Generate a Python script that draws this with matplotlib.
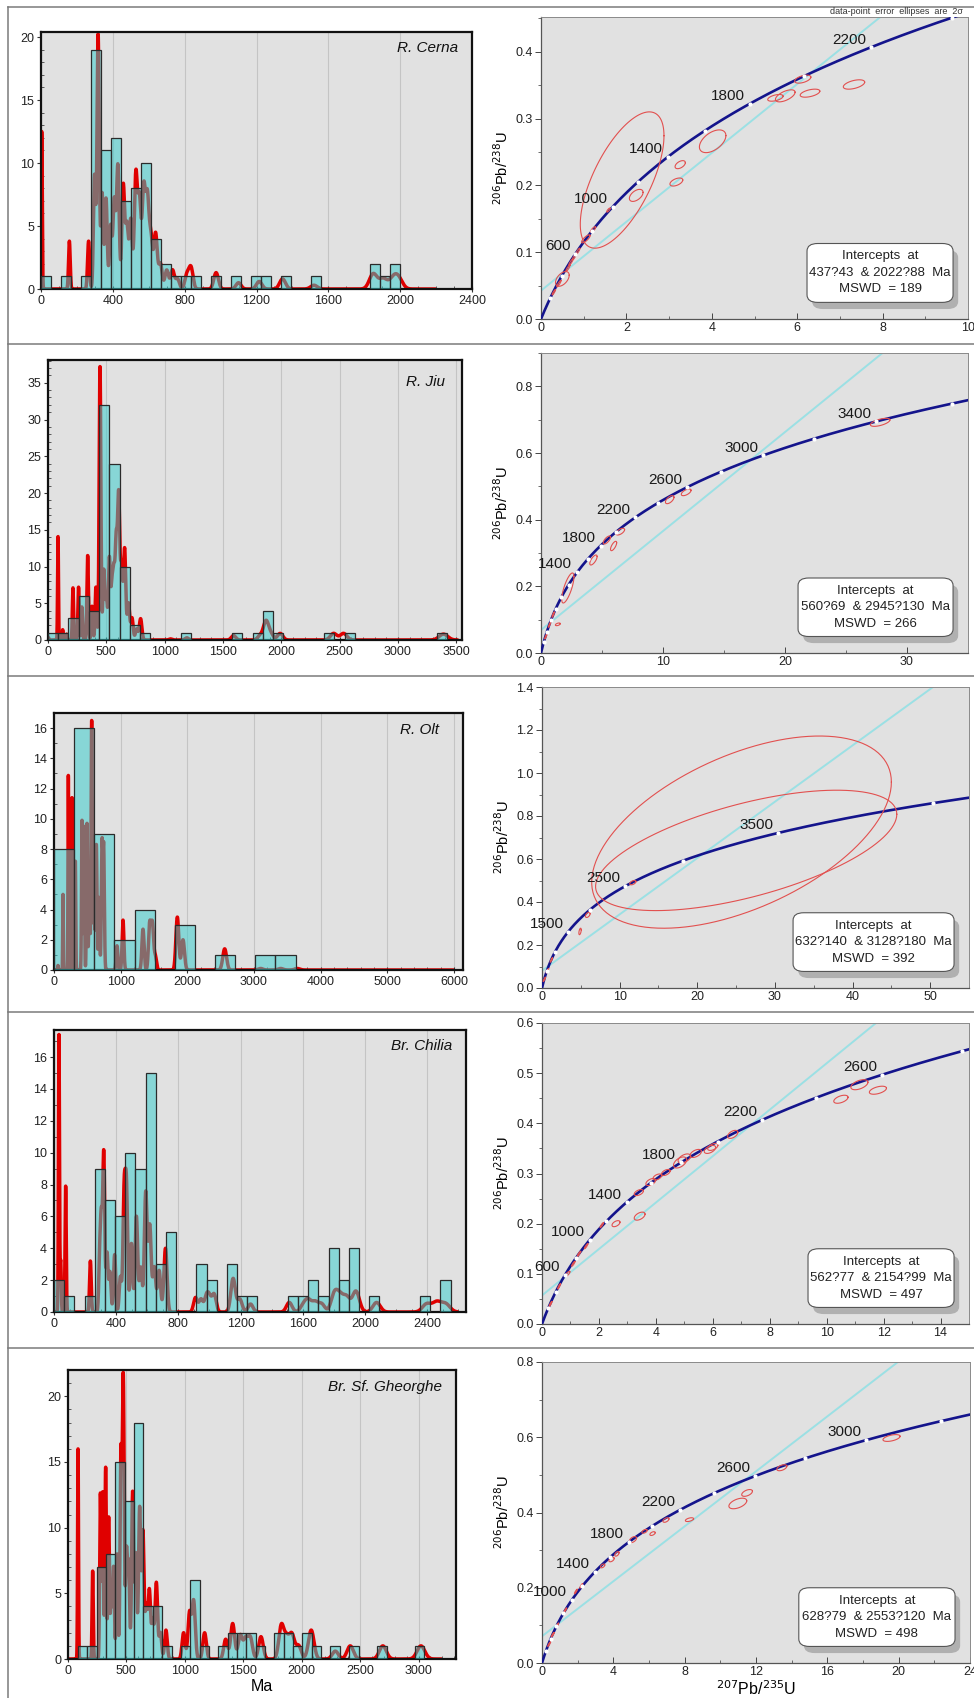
import numpy as np
import matplotlib
matplotlib.use('Agg')
import matplotlib.pyplot as plt
from matplotlib.lines import Line2D
from matplotlib.patches import FancyBboxPatch
from matplotlib.ticker import MultipleLocator, FormatStrFormatter

plt.rcParams['font.family'] = ['Liberation Sans', 'DejaVu Sans']

# ---------------- histogram data (bins of constant width) ----------------
names = ['R. Cerna', 'R. Jiu', 'R. Olt', 'Br. Chilia', 'Br. Sf. Gheorghe']

bin_width = [55.6, 87.7, 302.0, 65.4, 80.0]
bin_start = [0.0, 0.0, 0.0, 0.0, 6.0]

cerna_idx = [0, 2, 4, 5, 6, 7, 8, 9, 10, 11, 12, 13, 14, 15, 17, 19, 21, 22, 24, 27, 33, 34, 35]
cerna_cnt = [1, 1, 1, 19, 11, 12, 7, 8, 10, 4, 2, 1, 1, 1, 1, 1, 1, 1, 1, 1, 2, 1, 2]

jiu_idx = [0, 1, 2, 3, 4, 5, 6, 7, 8, 9, 13, 18, 20, 21, 22, 27, 29, 38]
jiu_cnt = [1, 1, 3, 6, 4, 32, 24, 10, 2, 1, 1, 1, 1, 4, 1, 1, 1, 1]

olt_idx = [0, 1, 2, 3, 4, 6, 8, 10, 11]
olt_cnt = [8, 16, 9, 2, 4, 3, 1, 1, 1]

chilia_idx = [0, 1, 3, 4, 5, 6, 7, 8, 9, 10, 11, 14, 15, 17, 18, 19, 23, 24, 25, 26, 27, 28, 29, 31, 36, 38]
chilia_cnt = [2, 1, 1, 9, 7, 6, 10, 9, 15, 3, 5, 3, 2, 3, 1, 1, 1, 1, 2, 1, 4, 2, 4, 1, 1, 2]

gheorghe_idx = [1, 2, 3, 4, 5, 6, 7, 8, 9, 10, 12, 13, 14, 16, 17, 18, 19, 20, 22, 23, 24, 25, 26, 28, 30, 33, 37]
gheorghe_cnt = [1, 1, 7, 8, 15, 12, 18, 4, 4, 1, 1, 6, 1, 1, 2, 2, 2, 1, 2, 2, 1, 2, 1, 1, 1, 1, 1]

hist_idx = [cerna_idx, jiu_idx, olt_idx, chilia_idx, gheorghe_idx]
hist_cnt = [cerna_cnt, jiu_cnt, olt_cnt, chilia_cnt, gheorghe_cnt]

# ---------------- probability density peaks (age Ma, height) ----------------
cerna_pk_age = [4, 158, 265, 298, 318, 340, 362, 388, 408, 428, 458, 478, 500, 528, 548, 572, 592, 612,
                638, 665, 700, 732, 760, 812, 835, 975, 1100, 1215, 1345, 1520, 1850, 1905, 1960, 1990]
cerna_pk_h = [12.5, 3.8, 3.8, 9, 20.2, 7.6, 7.2, 5, 7, 9.8, 8.2, 5, 5.5, 9, 7, 7.8, 7.0, 4,
              4.4, 2, 1.5, 1.5, 0.8, 1.1, 1.7, 1.3, 0.5, 0.6, 0.8, 0.3, 1.2, 0.8, 0.7, 0.8]

jiu_pk_age = [5, 86, 126, 160, 214, 262, 290, 340, 377, 411, 446, 478, 500, 526, 548, 565, 585, 606,
              630, 657, 690, 720, 760, 794, 1050, 1190, 1591, 1820, 1869, 1910, 1991, 2449, 2534, 3391]
jiu_pk_h = [0.3, 14.1, 1.4, 0.8, 7.1, 7.2, 4.5, 11.5, 4.6, 7.2, 37.2, 9.5, 6, 11.1, 7, 8.6, 13, 19.3,
            10, 12.4, 5, 3.0, 1.5, 2.9, 0.15, 0.3, 0.6, 0.6, 2.5, 0.8, 0.9, 0.9, 0.9, 0.8]

olt_pk_age = [60, 135, 215, 232, 270, 320, 420, 450, 495, 530, 565, 600, 635, 675, 720, 745,
              945, 1035, 1335, 1435, 1475, 1520, 1850, 1935, 2560, 3100, 3400, 3650]
olt_pk_h = [0.3, 5.0, 12.8, 11, 11.4, 7.2, 9.9, 9.5, 9.7, 6.5, 16.5, 8, 8.3, 4.8, 8.2, 8.0,
            1.6, 3.3, 2.7, 3.0, 3.0, 0.9, 3.5, 2.0, 1.4, 0.1, 0.1, 0.1]

chilia_pk_age = [32, 43, 75, 234, 294, 305, 320, 341, 360, 390, 427, 451, 466, 498, 530, 558, 590, 616,
                 645, 676, 717, 910, 945, 980, 1000, 1030, 1152, 1195, 1264, 1513, 1603, 1635, 1678,
                 1721, 1803, 1839, 1882, 1942, 2075, 2397, 2461, 2519]
chilia_pk_h = [17.4, 3.2, 7.9, 3.2, 3.3, 5.5, 9.9, 3.7, 2.5, 3.6, 2.2, 7.2, 7.5, 4.3, 6.0, 2.8, 7.5, 5.4,
               2.8, 2.6, 4.0, 0.9, 0.8, 0.9, 0.8, 1.1, 2.1, 0.8, 0.5, 0.6, 0.4, 0.7, 0.6,
               0.5, 1.1, 0.9, 0.9, 1.3, 0.6, 0.5, 0.6, 0.5]

gheorghe_pk_age = [86, 211, 277, 297, 322, 348, 370, 390, 420, 453, 473, 500, 519, 553, 580, 613, 641,
                   670, 696, 725, 756, 790, 838, 989, 1040, 1075, 1169, 1349, 1409, 1474, 1520, 1560,
                   1651, 1825, 1870, 1916, 1973, 2081, 2287, 2415, 2694, 3020]
gheorghe_pk_h = [16.0, 6.7, 12.6, 12.7, 14.6, 10.8, 5, 7, 8, 15.5, 21.3, 8, 7, 12.7, 8, 11.5, 9.7,
                 4, 5.2, 3, 5.8, 2, 2.2, 2.0, 3.5, 4.4, 2.0, 1.5, 2.7, 1.8, 1.5, 1.6,
                 1.7, 2.5, 1.5, 1.8, 1.0, 2.2, 0.6, 1.0, 1.0, 1.0]

pk_age = [cerna_pk_age, jiu_pk_age, olt_pk_age, chilia_pk_age, gheorghe_pk_age]
pk_h = [cerna_pk_h, jiu_pk_h, olt_pk_h, chilia_pk_h, gheorghe_pk_h]
curve_end = [2200, 3520, 6000, 2600, 3200]

# ---------------- concordia data ----------------
intercept_lo = [437, 560, 632, 562, 628]
intercept_hi = [2022, 2945, 3128, 2154, 2553]
intercept_txt = ['437?43  & 2022?88  Ma', '560?69  & 2945?130  Ma', '632?140  & 3128?180  Ma',
                 '562?77  & 2154?99  Ma', '628?79  & 2553?120  Ma']
mswd = [189, 266, 392, 497, 498]
label_ages = [[600, 1000, 1400, 1800, 2200],
              [1400, 1800, 2200, 2600, 3000, 3400],
              [1500, 2500, 3500],
              [600, 1000, 1400, 1800, 2200, 2600],
              [1000, 1400, 1800, 2200, 2600, 3000]]
dot_step = [200, 200, 500, 200, 200]

# ellipses: centre x, centre y, 2s x, 2s y, correlation
cerna_ell = [(1.90, 0.208, 0.98, 0.102, 0.65), (2.23, 0.185, 0.16, 0.009, 0.5), (3.17, 0.205, 0.15, 0.006, 0.5),
             (3.26, 0.231, 0.12, 0.006, 0.5), (4.02, 0.266, 0.31, 0.017, 0.5), (5.49, 0.331, 0.18, 0.005, 0.5),
             (5.72, 0.334, 0.23, 0.009, 0.6), (6.30, 0.338, 0.23, 0.006, 0.5), (6.13, 0.359, 0.19, 0.006, 0.5),
             (7.33, 0.351, 0.25, 0.007, 0.5), (0.50, 0.060, 0.16, 0.011, 0.5), (1.05, 0.120, 0.10, 0.006, 0.8),
             (1.22, 0.134, 0.06, 0.004, 0.8), (1.58, 0.163, 0.04, 0.003, 0.8), (0.30, 0.040, 0.04, 0.004, 0.9),
             (0.42, 0.053, 0.05, 0.005, 0.9), (0.63, 0.076, 0.05, 0.005, 0.9), (0.70, 0.085, 0.05, 0.005, 0.9),
             (0.78, 0.093, 0.05, 0.005, 0.9), (0.86, 0.101, 0.05, 0.005, 0.9)]
jiu_ell = [(2.20, 0.195, 0.50, 0.045, 0.75), (1.38, 0.086, 0.20, 0.004, 0.5), (4.30, 0.279, 0.30, 0.015, 0.7),
           (5.40, 0.339, 0.30, 0.012, 0.7), (5.95, 0.321, 0.25, 0.014, 0.7), (6.50, 0.364, 0.35, 0.010, 0.6),
           (10.55, 0.460, 0.35, 0.012, 0.6), (11.90, 0.482, 0.40, 0.010, 0.6), (27.80, 0.692, 0.80, 0.012, 0.6),
           (0.40, 0.050, 0.10, 0.008, 0.9), (0.70, 0.085, 0.10, 0.008, 0.9), (1.00, 0.115, 0.10, 0.008, 0.9)]
olt_ell = [(25.7, 0.725, 19.3, 0.447, 0.52), (26.3, 0.640, 19.4, 0.280, 0.6), (11.7, 0.490, 0.4, 0.010, 0.5),
           (5.9, 0.340, 0.3, 0.012, 0.5), (4.9, 0.263, 0.15, 0.015, 0.5), (0.3, 0.040, 0.15, 0.010, 0.9),
           (0.7, 0.080, 0.15, 0.010, 0.9), (1.2, 0.130, 0.15, 0.010, 0.9)]
chilia_ell = [(2.60, 0.200, 0.14, 0.006, 0.5), (3.43, 0.215, 0.19, 0.008, 0.5), (3.40, 0.262, 0.16, 0.006, 0.5),
              (3.82, 0.283, 0.17, 0.007, 0.5), (4.05, 0.293, 0.15, 0.006, 0.5), (4.35, 0.302, 0.15, 0.006, 0.5),
              (4.85, 0.322, 0.23, 0.011, 0.5), (5.00, 0.330, 0.22, 0.009, 0.5), (5.40, 0.340, 0.20, 0.008, 0.5),
              (5.90, 0.348, 0.20, 0.008, 0.5), (6.00, 0.353, 0.18, 0.007, 0.5), (6.70, 0.378, 0.18, 0.008, 0.5),
              (10.50, 0.448, 0.25, 0.008, 0.5), (11.15, 0.477, 0.30, 0.010, 0.5), (11.80, 0.466, 0.30, 0.008, 0.5),
              (0.90, 0.100, 0.08, 0.005, 0.8), (0.30, 0.040, 0.05, 0.005, 0.9), (0.60, 0.075, 0.05, 0.005, 0.9),
              (1.10, 0.120, 0.06, 0.005, 0.9), (1.30, 0.140, 0.06, 0.005, 0.9), (1.55, 0.155, 0.06, 0.005, 0.9),
              (2.10, 0.197, 0.06, 0.005, 0.9)]
gheorghe_ell = [(10.98, 0.424, 0.50, 0.014, 0.5), (11.50, 0.452, 0.30, 0.009, 0.5), (13.45, 0.519, 0.28, 0.008, 0.5),
                (19.60, 0.598, 0.48, 0.009, 0.5), (8.27, 0.381, 0.23, 0.005, 0.5), (6.95, 0.380, 0.17, 0.006, 0.5),
                (6.20, 0.344, 0.15, 0.005, 0.5), (5.75, 0.350, 0.15, 0.005, 0.5), (5.10, 0.328, 0.20, 0.008, 0.5),
                (3.90, 0.275, 0.15, 0.006, 0.5), (4.20, 0.290, 0.12, 0.006, 0.5), (3.40, 0.258, 0.12, 0.005, 0.5),
                (0.40, 0.050, 0.08, 0.006, 0.9), (0.60, 0.075, 0.08, 0.006, 0.9), (0.85, 0.100, 0.08, 0.006, 0.9),
                (1.30, 0.140, 0.08, 0.006, 0.9), (1.90, 0.190, 0.08, 0.006, 0.9), (2.20, 0.205, 0.08, 0.006, 0.9)]
ellipses = [cerna_ell, jiu_ell, olt_ell, chilia_ell, gheorghe_ell]

# ---------------- layout (pixel boxes) ----------------
W, H = 974, 1698
hist_box = [(41, 32, 472, 289), (48, 360, 462, 640), (54, 713, 463, 970), (54, 1030, 466, 1312), (68, 1370, 456, 1659)]
hist_xlim = [2400, 3550, 6135, 2650, 3320]
hist_ylim = [20.4, 38.1, 17.0, 17.7, 22.0]
hist_xmaj = [400, 500, 1000, 400, 500]
hist_xmin = [100, 100, 200, 100, 100]
hist_ymaj = [5, 5, 2, 2, 5]
title_pos = [(0.968, 0.938), (0.959, 0.921), (0.941, 0.934), (0.966, 0.943), (0.964, 0.941)]

conc_box = [(541, 17, 968, 319), (541, 353, 968, 653), (542, 687, 969, 988), (542, 1023, 969, 1324), (542, 1362, 970, 1663)]
conc_xlim = [10, 35, 55, 15, 24]
conc_ylim = [0.452, 0.9, 1.4, 0.6, 0.8]
conc_xmaj = [2, 10, 10, 2, 4]
conc_ymaj = [0.1, 0.2, 0.2, 0.1, 0.2]
box_left = [0.623, 0.602, 0.588, 0.623, 0.600]

L238 = 1.55125e-4   # per Ma
L235 = 9.8485e-4


def px_axes(fig, box):
    x0, y0, x1, y1 = box
    return fig.add_axes([x0 / W, 1 - y1 / H, (x1 - x0) / W, (y1 - y0) / H])


def conc_xy(t):
    t = np.asarray(t, dtype=float)
    return np.exp(L235 * t) - 1, np.exp(L238 * t) - 1


fig = plt.figure(figsize=(W / 100, H / 100), dpi=100)
fig.patch.set_facecolor('white')

# row frames
for yy in [7, 344, 676, 1012, 1348]:
    fig.add_artist(Line2D([8 / W, 1], [1 - yy / H] * 2, transform=fig.transFigure, color='#7a7a7a', lw=1.1))
fig.add_artist(Line2D([8 / W, 8 / W], [1 - 7 / H, 0], transform=fig.transFigure, color='#7a7a7a', lw=1.1))

bg = '#e1e1e1'

for i in range(5):
    # ---------- histogram + PDP ----------
    ax = px_axes(fig, hist_box[i])
    ax.set_facecolor(bg)
    x = np.linspace(0, curve_end[i], 6000)
    y = np.zeros_like(x)
    for a, h in zip(pk_age[i], pk_h[i]):
        s = 3 + 0.01 * a
        y += h * np.exp(-0.5 * ((x - a) / s) ** 2)
    ax.plot(x, y, color='#e00000', lw=2.5, zorder=2, solid_capstyle='butt')
    lefts = [bin_start[i] + k * bin_width[i] for k in hist_idx[i]]
    ax.bar(lefts, hist_cnt[i], width=bin_width[i], align='edge',
           color=(0.21, 0.80, 0.80, 0.52), edgecolor='#2b2b2b', linewidth=0.9, zorder=3)
    ax.set_xlim(0, hist_xlim[i])
    ax.set_ylim(0, hist_ylim[i])
    ax.xaxis.set_major_locator(MultipleLocator(hist_xmaj[i]))
    ax.xaxis.set_minor_locator(MultipleLocator(hist_xmin[i]))
    ax.yaxis.set_major_locator(MultipleLocator(hist_ymaj[i]))
    ax.yaxis.set_minor_locator(MultipleLocator(1))
    ax.grid(axis='x', which='major', color='#c4c4c4', lw=0.8, zorder=0)
    ax.set_axisbelow(True)
    ax.tick_params(axis='both', which='major', labelsize=9, length=3, width=0.8, color='#333333',
                   labelcolor='#222222', pad=2)
    ax.tick_params(axis='x', which='major', direction='inout', length=4)
    ax.tick_params(axis='both', which='minor', length=2, width=0.6, direction='in', color='#444444')
    for sp in ax.spines.values():
        sp.set_linewidth(1.6)
        sp.set_color('#111111')
    ax.text(title_pos[i][0], title_pos[i][1], names[i], transform=ax.transAxes, ha='right', va='center',
            fontsize=11, style='italic', color='#111111')
    if i == 4:
        ax.set_xlabel('Ma', fontsize=11.5, labelpad=2)

    # ---------- concordia ----------
    cx = px_axes(fig, conc_box[i])
    cx.set_facecolor(bg)
    cx.set_xlim(0, conc_xlim[i])
    cx.set_ylim(0, conc_ylim[i])

    # discordia line through the two intercepts
    x1, y1 = conc_xy(intercept_lo[i])
    x2, y2 = conc_xy(intercept_hi[i])
    slope = (y2 - y1) / (x2 - x1)
    dx = np.array([0, conc_xlim[i] * 1.05])
    cx.plot(dx, y1 + slope * (dx - x1), color='#9be0e4', lw=1.4, zorder=2)

    # concordia curve
    tt = np.linspace(0, 4700, 1500)
    ccx, ccy = conc_xy(tt)
    cx.plot(ccx, ccy, color='#14148c', lw=1.9, zorder=3)

    # data-point error ellipses
    th = np.linspace(0, 2 * np.pi, 120)
    for ex, ey, sx, sy, rho in ellipses[i]:
        cx.plot(ex + sx * np.cos(th), ey + sy * (rho * np.cos(th) + np.sqrt(1 - rho ** 2) * np.sin(th)),
                color='#e2504f', lw=0.8, zorder=4)

    # age marks
    dots = np.arange(dot_step[i], 4700, dot_step[i])
    dx_, dy_ = conc_xy(dots)
    cx.plot(dx_, dy_, 'o', ms=3.0, color='white', mec='none', zorder=5)
    lx, ly = conc_xy(label_ages[i])
    for a, px, py in zip(label_ages[i], lx, ly):
        cx.annotate(str(a), (px, py), xytext=(-3.5, 0.5), textcoords='offset points',
                    ha='right', va='bottom', fontsize=11, color='#1a1a1a', zorder=6)

    cx.xaxis.set_major_locator(MultipleLocator(conc_xmaj[i]))
    cx.xaxis.set_minor_locator(MultipleLocator(conc_xmaj[i] / 2))
    cx.yaxis.set_major_locator(MultipleLocator(conc_ymaj[i]))
    cx.yaxis.set_minor_locator(MultipleLocator(conc_ymaj[i] / 2))
    cx.yaxis.set_major_formatter(FormatStrFormatter('%.1f'))
    cx.tick_params(axis='both', which='major', labelsize=9, length=4, width=0.7, color='#444444',
                   labelcolor='#222222', pad=2)
    cx.tick_params(axis='x', which='both', direction='in')
    cx.tick_params(axis='both', which='minor', length=2.5, width=0.6, color='#555555')
    cx.tick_params(axis='x', which='minor', direction='in')
    for side in ['left', 'bottom']:
        cx.spines[side].set_color('#555555')
        cx.spines[side].set_linewidth(0.9)
    for side in ['top', 'right']:
        cx.spines[side].set_color('#8a8a8a')
        cx.spines[side].set_linewidth(0.7)
    cx.set_ylabel(r'$^{206}$Pb/$^{238}$U', fontsize=10.5, labelpad=3)
    if i == 4:
        cx.set_xlabel(r'$^{207}$Pb/$^{235}$U', fontsize=11.5, labelpad=1)

    # intercept box with shadow
    bl, bb, bw, bh = box_left[i], 0.055, 0.965 - box_left[i], 0.195
    shadow = FancyBboxPatch((bl + 0.012, bb - 0.022), bw, bh, boxstyle='round,pad=0,rounding_size=0.025',
                            transform=cx.transAxes, facecolor='#b0b0b0', edgecolor='none', zorder=7)
    box = FancyBboxPatch((bl, bb), bw, bh, boxstyle='round,pad=0,rounding_size=0.025',
                         transform=cx.transAxes, facecolor='white', edgecolor='#555555', lw=0.8, zorder=8)
    cx.add_patch(shadow)
    cx.add_patch(box)
    cx.text(bl + bw / 2, bb + bh / 2, 'Intercepts  at\n' + intercept_txt[i] + '\nMSWD  = ' + str(mswd[i]),
            transform=cx.transAxes, ha='center', va='center', fontsize=9.5, linespacing=1.5,
            color='#222222', zorder=9)

fig.text(963 / W, 1 - 12 / H, 'data-point  error  ellipses  are  2\u03c3', ha='right', va='center',
         fontsize=6.5, color='#333333')

fig.savefig('out.png', dpi=100)
